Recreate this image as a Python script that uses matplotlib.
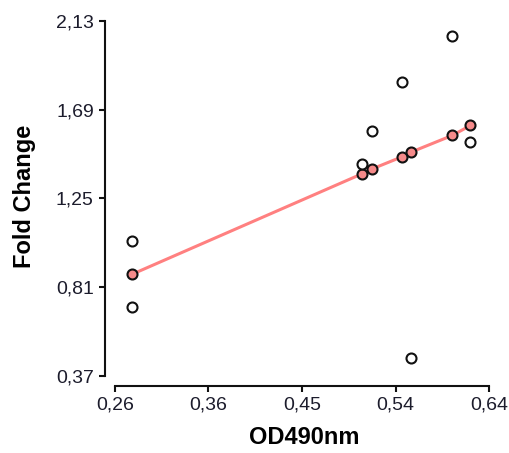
import matplotlib
matplotlib.use("Agg")
import matplotlib.pyplot as plt

# Data
od_obs = [0.279, 0.279, 0.510, 0.520, 0.550, 0.5595, 0.601, 0.619]
fold_obs = [1.038, 0.713, 1.422, 1.586, 1.827, 0.459, 2.054, 1.529]

od_fit = [0.279, 0.510, 0.520, 0.550, 0.5595, 0.601, 0.619]
fold_fit = [0.873, 1.371, 1.395, 1.455, 1.479, 1.562, 1.611]

x_ticks = [0.262, 0.356, 0.450, 0.544, 0.638]
x_tick_labels = ["0,26", "0,36", "0,45", "0,54", "0,64"]
y_ticks = [0.37, 0.81, 1.25, 1.69, 2.13]
y_tick_labels = ["0,37", "0,81", "1,25", "1,69", "2,13"]

plt.rcParams['font.family'] = ['Liberation Sans', 'DejaVu Sans']

fig = plt.figure(figsize=(5.10, 4.53), dpi=100)
ax = fig.add_axes([114.7 / 510, 1 - 376 / 453, (489.3 - 114.7) / 510, (376 - 20.7) / 453])

line_col = '#ff8080'
ax.plot(od_fit, fold_fit, color=line_col, lw=2.2, zorder=2)
ax.plot(od_fit, fold_fit, 'o', ms=7.2, mfc='#f58a8a', mec='#111111', mew=1.5, ls='none', zorder=3)
ax.plot(od_obs, fold_obs, 'o', ms=7.2, mfc='white', mec='#111111', mew=1.5, ls='none', zorder=3)

ax.set_xlim(x_ticks[0], x_ticks[-1])
ax.set_ylim(y_ticks[0], y_ticks[-1])
ax.set_xticks(x_ticks)
ax.set_xticklabels(x_tick_labels)
ax.set_yticks(y_ticks)
ax.set_yticklabels(y_tick_labels)

for s in ['top', 'right']:
    ax.spines[s].set_visible(False)
ax.spines['left'].set_position(('outward', 7))
ax.spines['bottom'].set_position(('outward', 7))
ax.spines['left'].set_bounds(y_ticks[0], y_ticks[-1])
ax.spines['bottom'].set_bounds(x_ticks[0], x_ticks[-1])
for s in ['left', 'bottom']:
    ax.spines[s].set_linewidth(1.5)
    ax.spines[s].set_color('#111111')

ax.tick_params(axis='both', length=4.5, width=1.5, color='#111111',
               labelsize=14, labelcolor='#1c1c2c')
ax.tick_params(axis='x', pad=3.5)
ax.tick_params(axis='y', pad=3.5)

ax.set_xlabel('OD490nm', fontsize=17, fontweight='bold', va='center')
ax.set_ylabel('Fold Change', fontsize=17, fontweight='bold', va='center', ha='center')
ax.xaxis.set_label_coords(304 / 510, 1 - 437 / 453, transform=fig.transFigure)
ax.yaxis.set_label_coords(25 / 510, 1 - 196 / 453, transform=fig.transFigure)

fig.savefig('out.png', dpi=100)
